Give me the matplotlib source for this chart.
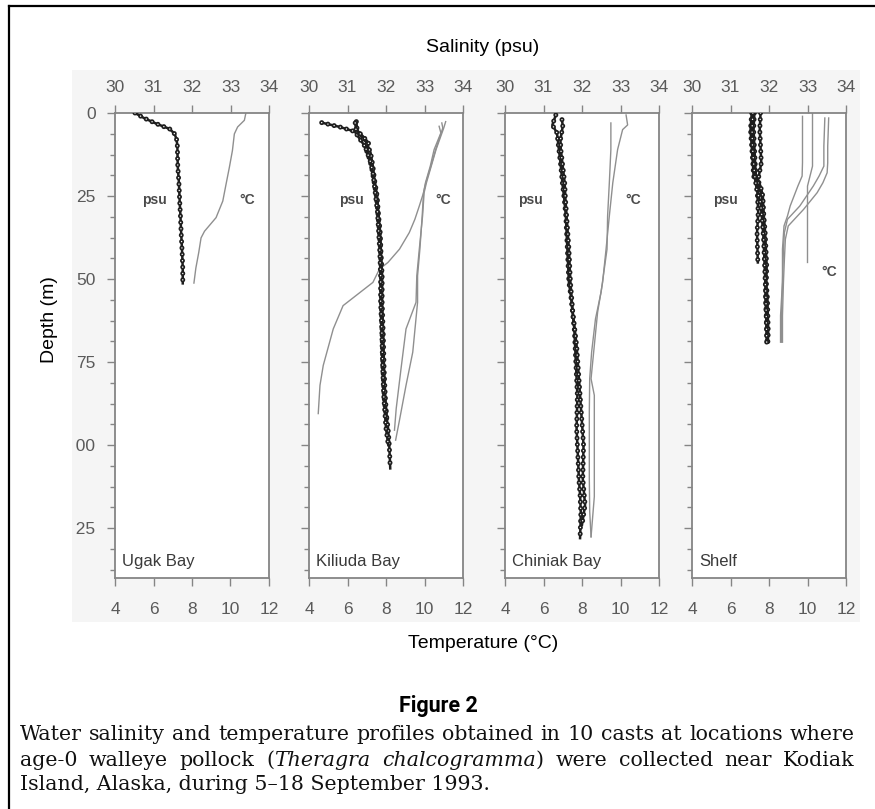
import matplotlib
matplotlib.use("Agg")
import matplotlib.pyplot as plt
from matplotlib.lines import Line2D
from matplotlib.patches import Rectangle
from matplotlib.ticker import AutoMinorLocator
from matplotlib.transforms import Bbox, TransformedBbox

plt.rcParams['lines.scale_dashes'] = False

# --- data ---
stations = ["Ugak Bay", "Kiliuda Bay", "Chiniak Bay", "Shelf"]
temp_ticks = [4, 6, 8, 10, 12]
sal_ticks = [30, 31, 32, 33, 34]
depth_ticks = [0, 25, 50, 75, 100, 125]

# Ugak Bay (1 cast)
ugak_sal_depth = [[0, 1.5, 3.2, 4.8, 6.3, 8, 10, 16, 21, 26.5, 31, 36.5, 41, 46.8, 51.3]]
ugak_sal = [[30.52, 30.75, 31.07, 31.42, 31.55, 31.6, 31.62, 31.63, 31.66, 31.68, 31.7, 31.72, 31.74, 31.76, 31.76]]
ugak_temp_depth = [[0, 2.2, 4.2, 6.3, 11.3, 16.4, 21.4, 26.5, 31.5, 35.6, 37.6, 42, 46.7, 51.2]]
ugak_temp = [[10.8, 10.72, 10.37, 10.2, 10.1, 9.94, 9.77, 9.6, 9.25, 8.65, 8.47, 8.35, 8.2, 8.1]]

# Kiliuda Bay (3 casts)
kiliuda_sal_depth = [
    [2.9, 4.2, 5.6, 7.5, 10, 13, 16, 20, 25, 30, 36, 42, 49, 57, 67, 77, 87, 94.5, 99, 104, 107],
    [2.6, 5, 7, 9, 12, 16, 20, 25, 30, 36, 42, 49, 57, 67, 77, 85, 92],
    [3, 5, 7, 9, 11, 14, 18, 25, 30, 36, 42, 49, 57, 65, 75, 85, 95, 100],
]
kiliuda_sal = [
    [30.33, 30.8, 31.19, 31.3, 31.45, 31.55, 31.62, 31.68, 31.75, 31.79, 31.83, 31.86, 31.88, 31.88, 31.9, 31.92, 31.96, 32.05, 32.08, 32.1, 32.11],
    [31.23, 31.25, 31.35, 31.5, 31.6, 31.66, 31.7, 31.77, 31.8, 31.85, 31.87, 31.9, 31.9, 31.93, 31.95, 31.98, 32.02],
    [31.2, 31.22, 31.4, 31.55, 31.48, 31.58, 31.66, 31.73, 31.78, 31.81, 31.84, 31.86, 31.86, 31.89, 31.91, 31.94, 32.0, 32.06],
]
kiliuda_temp_depth = [
    [3, 4.5, 11, 16, 21, 24, 28, 32, 36, 41, 45, 47, 51, 58, 65, 76, 82, 90.5],
    [2.6, 4.5, 11, 16, 21, 24, 31, 41, 49, 57, 65, 77, 89, 95.5],
    [4, 6, 11, 16, 21, 24, 31, 41, 49, 57, 72, 82, 92.5, 98.5],
]
kiliuda_temp = [
    [10.9, 10.95, 10.58, 10.33, 10.07, 9.95, 9.73, 9.5, 9.21, 8.7, 8.1, 7.66, 7.32, 5.77, 5.26, 4.74, 4.57, 4.48],
    [11.1, 11.0, 10.6, 10.35, 10.1, 9.98, 9.9, 9.73, 9.6, 9.56, 9.04, 8.78, 8.53, 8.44],
    [10.76, 10.85, 10.5, 10.3, 10.05, 9.95, 9.88, 9.76, 9.64, 9.64, 9.39, 9.04, 8.7, 8.5],
]

# Chiniak Bay (2 casts)
chiniak_sal_depth = [
    [0.6, 3.6, 6, 11, 16, 21, 26, 31, 36, 41, 46, 51, 55, 65, 75, 85, 95, 105, 110.5, 115, 120.5, 128],
    [2, 4, 8, 11, 16, 21, 26, 31, 36, 41, 46, 51, 60, 70, 80, 90, 100, 110, 118, 124],
]
chiniak_sal = [
    [31.32, 31.23, 31.35, 31.4, 31.45, 31.49, 31.54, 31.58, 31.6, 31.62, 31.64, 31.66, 31.71, 31.8, 31.84, 31.88, 31.86, 31.9, 31.92, 31.95, 31.97, 31.95],
    [31.48, 31.5, 31.44, 31.45, 31.5, 31.55, 31.57, 31.6, 31.63, 31.66, 31.68, 31.7, 31.76, 31.86, 31.92, 31.98, 32.04, 32.02, 32.08, 32.0],
]
chiniak_temp_depth = [
    [0.6, 3.6, 5, 11, 21, 31, 41, 51, 60, 70, 80, 85, 100.5, 115.5, 127.6],
    [3, 11, 21, 31, 41, 54, 62, 72, 80, 90, 100.5, 110, 120, 127.6],
]
chiniak_temp = [
    [10.29, 10.37, 10.11, 9.85, 9.6, 9.42, 9.25, 9.07, 8.81, 8.64, 8.47, 8.64, 8.64, 8.64, 8.47],
    [9.5, 9.5, 9.42, 9.33, 9.3, 8.99, 8.7, 8.5, 8.4, 8.38, 8.38, 8.38, 8.4, 8.47],
]

# Shelf (4 casts)
shelf_sal_depth = [
    [0, 5, 10, 15, 19, 22, 25, 30, 36, 41, 46, 51, 56, 61, 66, 69],
    [0, 5, 10, 15, 19, 22, 25, 30, 36, 41, 46, 51, 56, 61, 66, 69],
    [0, 5, 10, 15, 20, 25, 30, 36, 41, 45],
    [0, 5, 10, 15, 19, 23, 27, 32, 38, 44, 50, 56, 62, 69],
]
shelf_sal = [
    [31.55, 31.52, 31.55, 31.58, 31.6, 31.72, 31.82, 31.85, 31.87, 31.89, 31.91, 31.92, 31.91, 31.93, 31.95, 31.95],
    [31.62, 31.6, 31.62, 31.64, 31.66, 31.78, 31.84, 31.86, 31.9, 31.92, 31.94, 31.93, 31.96, 31.97, 31.98, 31.97],
    [31.78, 31.76, 31.78, 31.8, 31.72, 31.7, 31.72, 31.69, 31.7, 31.71],
    [31.58, 31.56, 31.57, 31.6, 31.63, 31.68, 31.78, 31.82, 31.86, 31.88, 31.9, 31.92, 31.93, 31.94],
]
shelf_temp_depth = [
    [1, 5, 10, 15, 19, 22, 25, 28, 31, 34, 41, 51, 61, 69],
    [0, 5, 10, 16, 22, 26, 30, 35, 40, 45],
    [1.5, 5, 10, 16, 19, 22, 25, 28, 32, 36, 41, 51, 61, 69],
    [1.5, 5, 10, 15, 18, 21, 24, 29, 34, 38, 44, 51, 61, 69],
]
shelf_temp = [
    [9.74, 9.74, 9.74, 9.74, 9.72, 9.5, 9.3, 9.1, 8.96, 8.78, 8.7, 8.7, 8.6, 8.6],
    [10.26, 10.26, 10.26, 10.26, 10.0, 10.0, 10.0, 10.0, 10.0, 10.0],
    [10.9, 10.88, 10.85, 10.85, 10.6, 10.3, 9.95, 9.6, 8.96, 8.8, 8.75, 8.7, 8.65, 8.65],
    [11.1, 11.08, 11.05, 11.05, 11.02, 10.8, 10.5, 9.8, 9.0, 8.85, 8.8, 8.75, 8.7, 8.7],
]

sal_depths = [ugak_sal_depth, kiliuda_sal_depth, chiniak_sal_depth, shelf_sal_depth]
sals = [ugak_sal, kiliuda_sal, chiniak_sal, shelf_sal]
temp_depths = [ugak_temp_depth, kiliuda_temp_depth, chiniak_temp_depth, shelf_temp_depth]
temps = [ugak_temp, kiliuda_temp, chiniak_temp, shelf_temp]

# centres of the little "psu" / "°C" tags (salinity units, depth)
psu_tag = [(31.03, 26.2), (31.11, 26.2), (30.65, 26.2), (30.87, 26.2)]
degc_tag = [(33.43, 26.2), (33.49, 26.2), (33.32, 26.2), (33.56, 47.8)]

# --- layout (pixels) ---
W, H = 875, 809
def fx(px):
    return px / W
def fy(py):
    return 1 - py / H

lefts = [115, 309, 505, 692]
ax_w, ax_top, ax_bot = 154, 113, 578

spine_c = '#858585'
tick_lab_c = '#5a5a5a'
dark = '#1e1e1e'
light = '#8f8f8f'
sans = 'Liberation Sans'

fig = plt.figure(figsize=(W / 100, H / 100), dpi=100)
fig.patch.set_facecolor('white')

# light grey of the scanned plot area
fig.add_artist(Rectangle((fx(72), fy(622)), fx(860) - fx(72), fy(70) - fy(622),
                         transform=fig.transFigure, facecolor='#f5f5f5',
                         edgecolor='none', zorder=-5))
# page frame (only left and top edges are visible)
fig.add_artist(Line2D([fx(9), fx(9)], [0, fy(6)], transform=fig.transFigure, color='black', lw=1.6))
fig.add_artist(Line2D([fx(9), 1], [fy(6), fy(6)], transform=fig.transFigure, color='black', lw=1.6))

# the scan cuts off the leading "1" of 100 and 125
clip = TransformedBbox(Bbox.from_extents(fx(76), 0, 1, 1), fig.transFigure)

for i, name in enumerate(stations):
    ax = fig.add_axes([fx(lefts[i]), fy(ax_bot), ax_w / W, (ax_bot - ax_top) / H])
    ax.set_facecolor('white')
    ax.set_xlim(4, 12)
    ax.set_xticks(temp_ticks)
    ax.set_ylim(140, 0)
    ax.set_yticks(depth_ticks)
    ax.yaxis.set_minor_locator(AutoMinorLocator(4))

    ax2 = ax.twiny()
    ax2.set_xlim(30, 34)
    ax2.set_xticks(sal_ticks)

    for a in (ax, ax2):
        for sp in a.spines.values():
            sp.set_color(spine_c)
            sp.set_linewidth(1.3)
    for sp in ax2.spines.values():
        sp.set_visible(False)

    ax.tick_params(axis='both', which='major', direction='out', length=6, width=1.0,
                   color=spine_c, labelcolor=tick_lab_c, labelsize=12.5)
    ax.tick_params(axis='y', which='minor', direction='out', length=3.5, width=1.0, color=spine_c)
    ax.tick_params(axis='y', pad=8)
    ax.tick_params(axis='x', pad=11)
    ax2.tick_params(axis='x', direction='out', length=6, width=1.0, color=spine_c,
                    labelcolor=tick_lab_c, labelsize=12.5, pad=7)
    for lbl in ax.get_xticklabels() + ax.get_yticklabels() + ax2.get_xticklabels():
        lbl.set_family(sans)
    if i == 0:
        for lbl in ax.get_yticklabels():
            lbl.set_clip_box(clip)
            lbl.set_clip_on(True)
    else:
        ax.set_yticklabels([])

    # temperature casts (thin grey)
    for d, t in zip(temp_depths[i], temps[i]):
        ax.plot(t, d, color=light, lw=1.0, zorder=2)

    # salinity casts (dark line with small open circles)
    for d, s in zip(sal_depths[i], sals[i]):
        ax2.plot(s, d, color=dark, lw=1.8, solid_joinstyle='round', zorder=3)
        ax2.plot(s, d, color=dark, lw=3.6, ls=(0, (0.001, 4.6)), dash_capstyle='round', zorder=3)
        ax2.plot(s, d, color='white', lw=1.1, ls=(0, (0.001, 4.6)), dash_capstyle='round', zorder=3)

    ax2.text(psu_tag[i][0], psu_tag[i][1], 'psu', fontsize=10, fontweight='bold',
             color='#4a4a4a', ha='center', va='center', family=sans)
    ax2.text(degc_tag[i][0], degc_tag[i][1], '°C', fontsize=10, fontweight='bold',
             color='#4a4a4a', ha='center', va='center', family=sans)
    ax.text(0.045, 0.035, name, transform=ax.transAxes, fontsize=12, color='#3a3a3a',
            ha='left', va='center', family=sans)

fig.text(fx(483), fy(47), 'Salinity (psu)', ha='center', va='center', fontsize=14, family=sans)
fig.text(fx(483), fy(643), 'Temperature (°C)', ha='center', va='center', fontsize=14, family=sans)
fig.text(fx(50), fy(320), 'Depth (m)', ha='center', va='center', rotation=90, fontsize=14, family=sans)
fig.text(fx(438), fy(706), 'Figure 2', ha='center', va='center', fontsize=15.5,
         fontweight='bold', family='Roboto')

# caption, first two lines justified
cap = dict(family='DejaVu Serif', fontsize=14.8, color='#111111', va='center', ha='left')
renderer = fig.canvas.get_renderer()

def put_line(words, y, x0=20, x1=855):
    items = []
    for word in words:
        segs = []
        for txt, style in word:
            t = fig.text(0, fy(y), txt, style=style, **cap)
            segs.append((t, t.get_window_extent(renderer).width))
        items.append(segs)
    total = sum(w for segs in items for _, w in segs)
    gap = (x1 - x0 - total) / (len(items) - 1)
    x = x0
    for segs in items:
        for t, w in segs:
            t.set_x(fx(x))
            x += w
        x += gap

line1 = "Water salinity and temperature profiles obtained in 10 casts at locations where"
put_line([[(w, 'normal')] for w in line1.split()], 735)
line2 = [[('age-0', 'normal')], [('walleye', 'normal')], [('pollock', 'normal')],
         [('(', 'normal'), ('Theragra', 'italic')], [('chalcogramma', 'italic'), (')', 'normal')],
         [('were', 'normal')], [('collected', 'normal')], [('near', 'normal')], [('Kodiak', 'normal')]]
put_line(line2, 760)
fig.text(fx(20), fy(785), 'Island, Alaska, during 5–18 September 1993.', **cap)

fig.savefig('out.png', dpi=100)
